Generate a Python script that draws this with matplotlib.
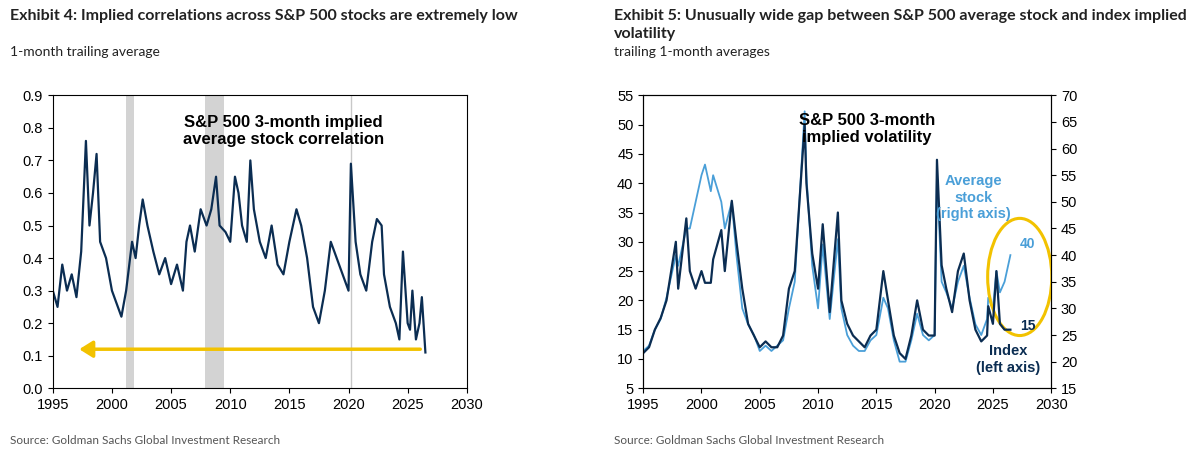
import matplotlib
matplotlib.use("Agg")
import matplotlib.pyplot as plt
from matplotlib.patches import Ellipse
plt.rcParams['font.family'] = ['Liberation Sans', 'DejaVu Sans']

corr_t = [1995,1995.4,1995.8,1996.2,1996.6,1997,1997.4,1997.8,1998.1,1998.4,1998.7,1999,1999.5,2000,2000.5,2000.8,2001.2,2001.7,2002,2002.3,2002.6,2003,2003.5,2004,2004.5,2005,2005.5,2006,2006.3,2006.6,2007,2007.5,2008,2008.4,2008.8,2009.1,2009.6,2010,2010.4,2010.7,2011,2011.4,2011.7,2012,2012.5,2013,2013.5,2014,2014.5,2015,2015.6,2016,2016.5,2017,2017.5,2018,2018.5,2019,2019.5,2020,2020.2,2020.6,2021,2021.5,2022,2022.4,2022.8,2023,2023.5,2024,2024.3,2024.6,2025,2025.2,2025.4,2025.7,2026,2026.2,2026.5]
corr_v = [0.30,0.25,0.38,0.30,0.35,0.28,0.42,0.76,0.50,0.60,0.72,0.45,0.40,0.30,0.25,0.22,0.30,0.45,0.40,0.50,0.58,0.50,0.42,0.35,0.40,0.32,0.38,0.30,0.45,0.50,0.42,0.55,0.50,0.55,0.65,0.50,0.48,0.45,0.65,0.60,0.50,0.45,0.70,0.55,0.45,0.40,0.50,0.38,0.35,0.45,0.55,0.50,0.40,0.25,0.20,0.30,0.45,0.40,0.35,0.30,0.69,0.45,0.35,0.30,0.45,0.52,0.50,0.35,0.25,0.20,0.15,0.42,0.20,0.18,0.30,0.15,0.20,0.28,0.11]

vol_t = [1995,1995.5,1996,1996.5,1997,1997.8,1998,1998.7,1999,1999.5,2000,2000.3,2000.8,2001,2001.7,2002,2002.6,2003,2003.5,2004,2004.5,2005,2005.5,2006,2006.5,2007,2007.5,2008,2008.85,2009,2009.5,2010,2010.4,2011,2011.7,2012,2012.5,2013,2013.5,2014,2014.5,2015,2015.6,2016,2016.5,2017,2017.5,2018,2018.5,2019,2019.5,2020,2020.2,2020.6,2021,2021.5,2022,2022.5,2023,2023.5,2024,2024.5,2024.6,2025,2025.3,2025.6,2026,2026.5]
idx_v = [11,12,15,17,20,30,22,34,25,22,25,23,23,27,32,25,37,30,22,16,14,12,13,12,12,14,22,25,50,40,28,22,33,18,35,20,16,14,13,12,14,15,25,20,14,11,10,14,20,15,14,14,44,26,22,18,25,28,20,15,13,14,19,16,25,16,15,15]
stk_v = [22,23,26,28,32,40,38,45,45,50,55,57,52,55,50,45,50,40,30,27,25,22,23,22,23,24,30,35,67,55,38,30,42,28,43,30,25,23,22,22,24,25,32,30,24,20,20,24,29,25,24,25,55,35,33,30,35,38,32,27,25,28,32,30,37,33,35,40]

navy = "#0b2d52"; light = "#4a9fd8"; gold = "#f2c200"
fig = plt.figure(figsize=(12, 4.65), dpi=100)
tf = dict(family=['Lato', 'DejaVu Sans'], color="#222", va="top")
fig.text(0.008, 0.98, "Exhibit 4: Implied correlations across S&P 500 stocks are extremely low", fontsize=11.5, weight="bold", **tf)
fig.text(0.008, 0.90, "1-month trailing average", fontsize=10, **tf)
fig.text(0.512, 0.98, "Exhibit 5: Unusually wide gap between S&P 500 average stock and index implied\nvolatility", fontsize=11.5, weight="bold", linespacing=1.3, **tf)
fig.text(0.512, 0.90, "trailing 1-month averages", fontsize=10, **tf)
sf = dict(family=['Lato', 'DejaVu Sans'], fontsize=8.5, color="#555")
fig.text(0.008, 0.045, "Source: Goldman Sachs Global Investment Research", **sf)
fig.text(0.512, 0.045, "Source: Goldman Sachs Global Investment Research", **sf)

ax = fig.add_axes([0.044, 0.165, 0.345, 0.63])
ax.axvspan(2001.2, 2001.9, color="#d3d3d3", lw=0)
ax.axvspan(2007.9, 2009.5, color="#d3d3d3", lw=0)
ax.axvline(2020.2, color="#c8c8c8", lw=1)
ax.plot(corr_t, corr_v, color=navy, lw=1.6)
ax.annotate("", xy=(1997, 0.12), xytext=(2026.3, 0.12), arrowprops=dict(arrowstyle="-|>,head_width=0.5,head_length=0.8", color=gold, lw=2.5))
ax.set_xlim(1995, 2030); ax.set_ylim(0, 0.9)
ax.set_xticks(range(1995, 2031, 5)); ax.set_yticks([i/10 for i in range(10)])
ax.set_yticklabels([f"{i/10:.1f}" for i in range(10)])
ax.text(2014.5, 0.84, "S&P 500 3-month implied\naverage stock correlation", ha="center", va="top", fontsize=12, weight="bold")
ax.tick_params(labelsize=10.5)

ax2 = fig.add_axes([0.536, 0.165, 0.34, 0.63])
ax3 = ax2.twinx()
ax3.plot(vol_t, stk_v, color=light, lw=1.3)
ax2.plot(vol_t, idx_v, color=navy, lw=1.6)
ax2.set_zorder(ax3.get_zorder()+1); ax2.patch.set_visible(False)
ax2.set_xlim(1995, 2030); ax2.set_ylim(5, 55); ax3.set_ylim(15, 70)
ax2.set_xticks(range(1995, 2031, 5)); ax2.set_yticks(range(5, 56, 5)); ax3.set_yticks(range(15, 71, 5))
ax2.tick_params(labelsize=10.5); ax3.tick_params(labelsize=10.5)
ax2.text(2014.2, 52, "S&P 500 3-month\nimplied volatility", ha="center", va="top", fontsize=12, weight="bold")
ax2.text(2023.3, 41.5, "Average\nstock\n(right axis)", ha="center", va="top", fontsize=10.5, weight="bold", color=light)
ax2.text(2027.3, 29, "40", fontsize=10, weight="bold", color=light)
ax2.text(2027.3, 15, "15", fontsize=10, weight="bold", color=navy)
ax2.text(2026.3, 12.5, "Index\n(left axis)", ha="center", va="top", fontsize=10.5, weight="bold", color=navy)
ax2.add_patch(Ellipse((2027.3, 24), 5.5, 20, fill=False, ec=gold, lw=2.2))
fig.savefig("out.png")
